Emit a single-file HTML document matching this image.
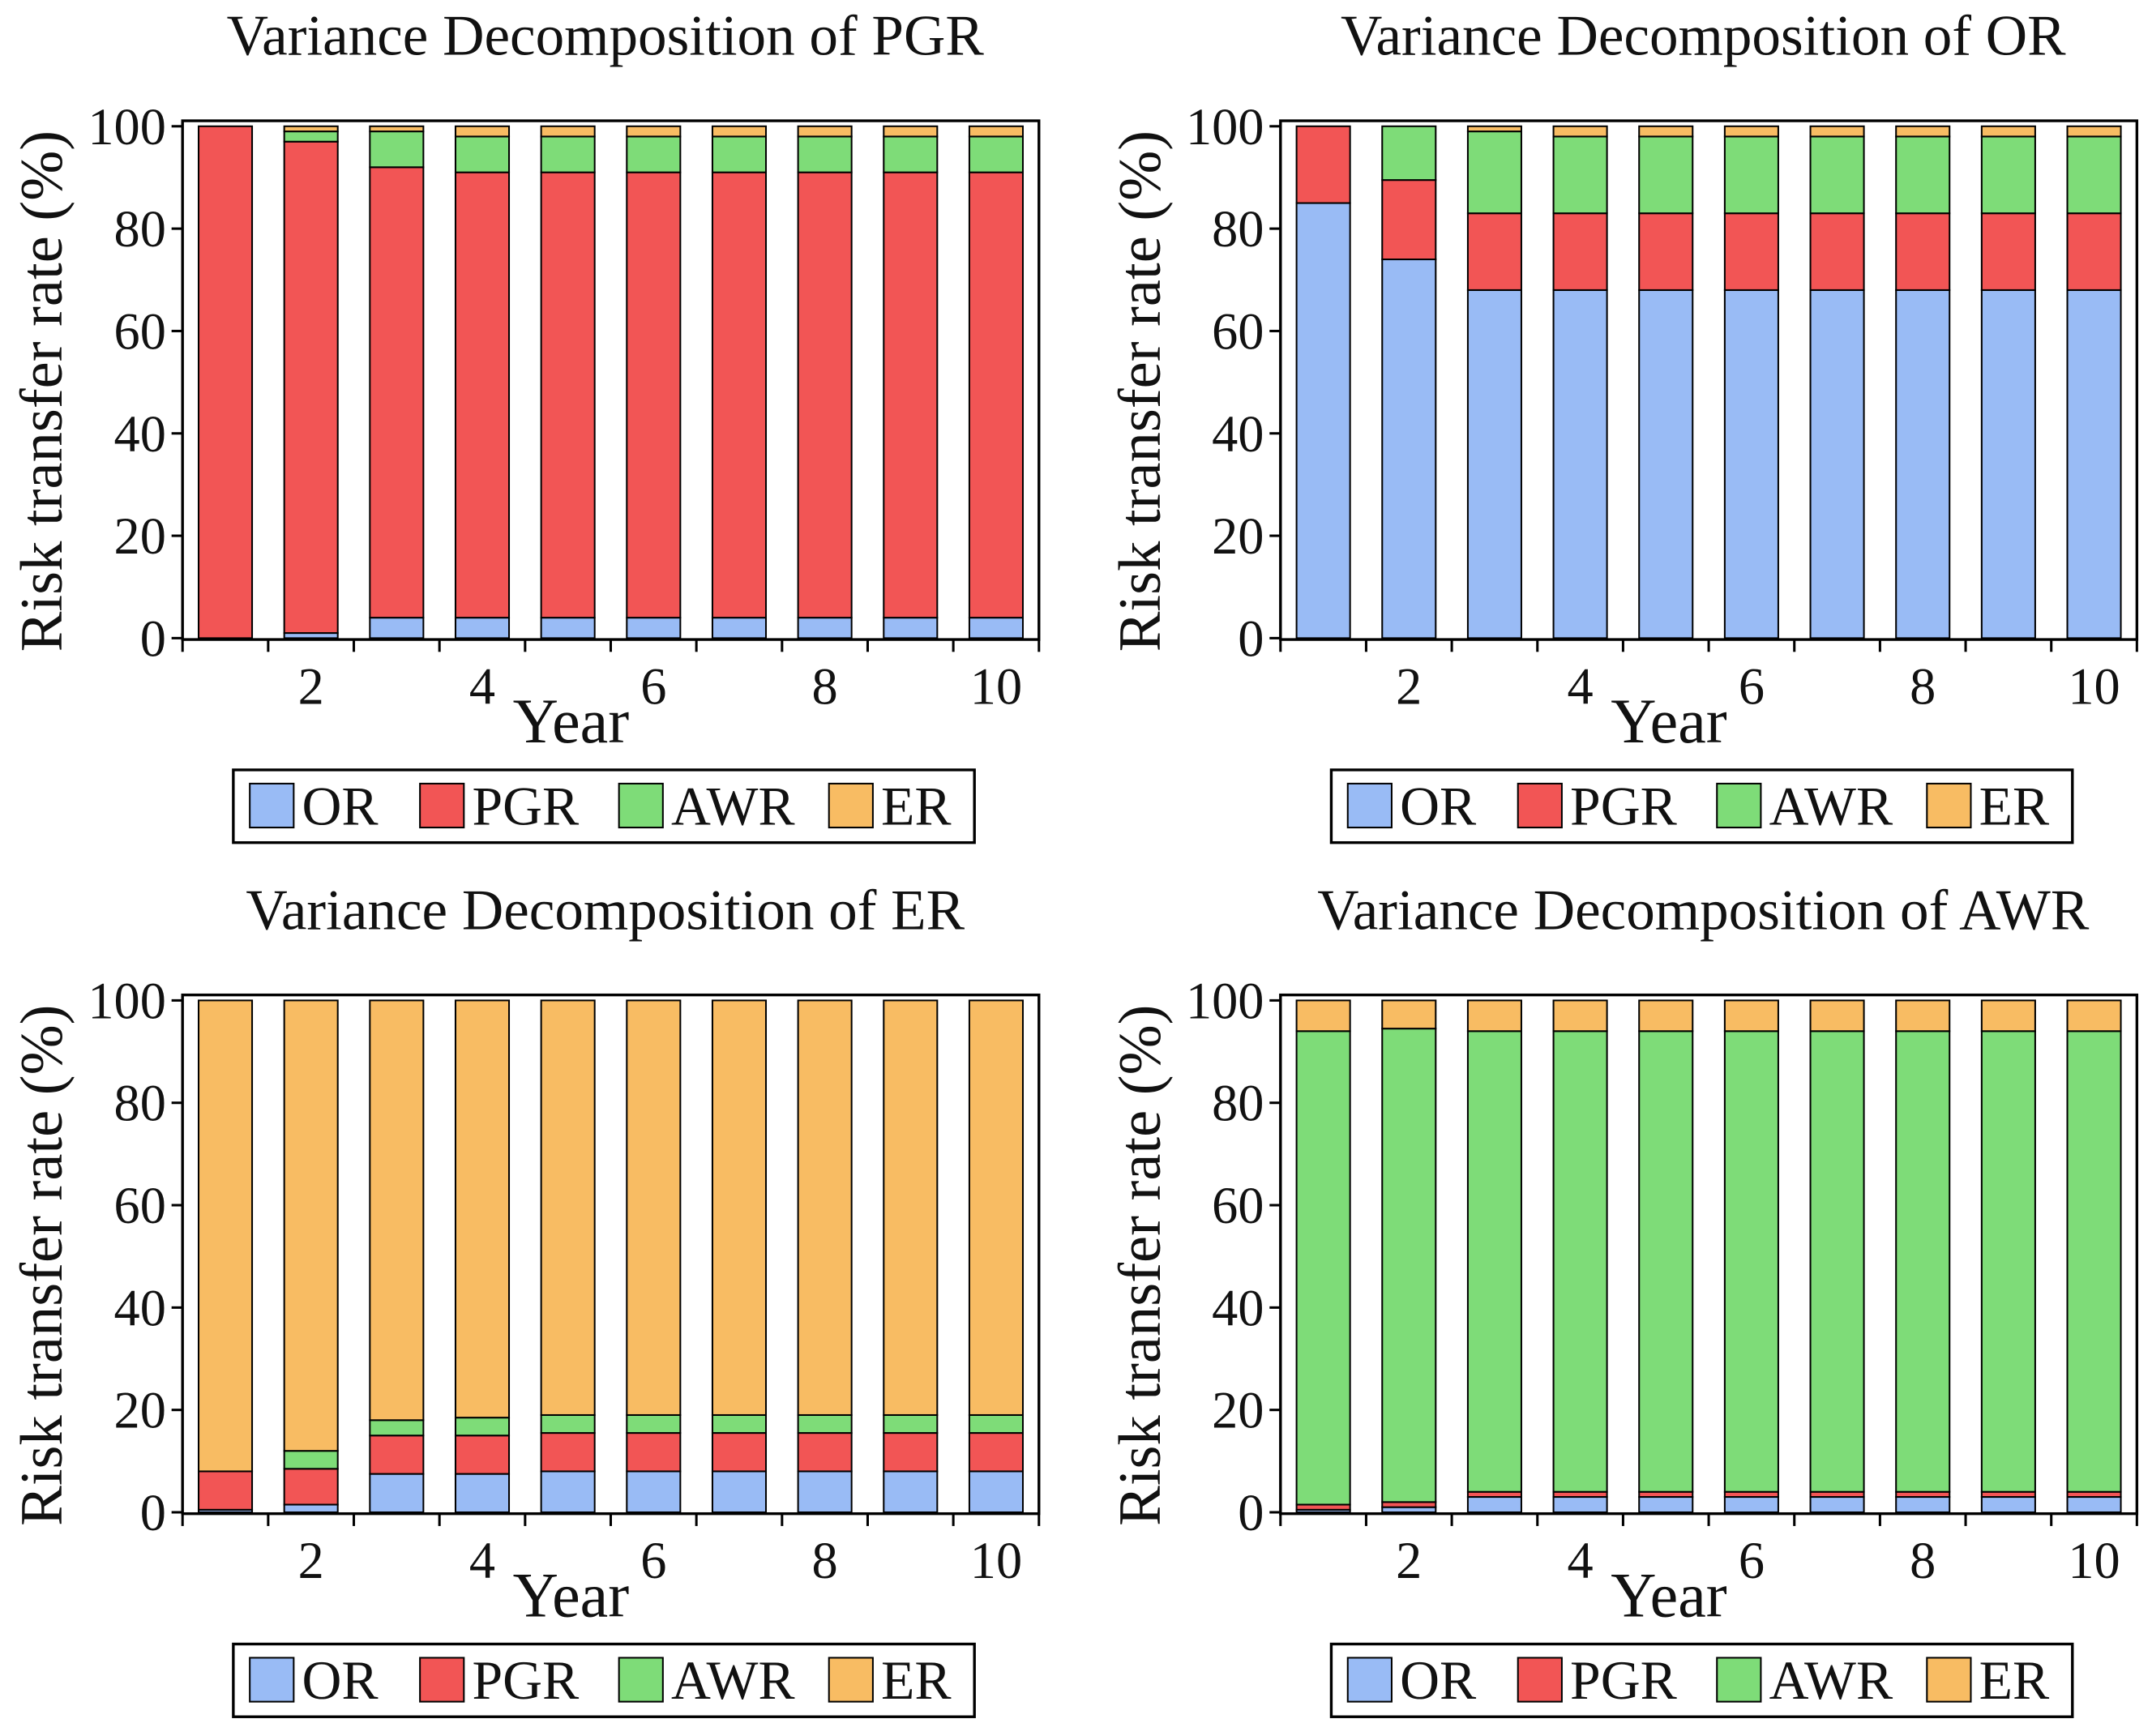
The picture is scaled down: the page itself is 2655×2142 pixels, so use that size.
<!DOCTYPE html>
<html><head><meta charset="utf-8"><style>
html,body{margin:0;padding:0;background:#fff}
svg{display:block}
text{font-family:"Liberation Serif",serif;fill:#111}
</style></head><body>
<svg id="c" width="2655" height="2142" viewBox="0 0 1568 1265" xmlns="http://www.w3.org/2000/svg"></svg>
<script>
const years=[1,2,3,4,5,6,7,8,9,10];
const seriesNames=["OR","PGR","AWR","ER"];
const colors=["#99bbf5","#f25555","#7edc78","#f8bc63"];
const yTicks=[0,20,40,60,80,100];
const xTicks=[2,4,6,8,10];
// Variance decomposition of PGR
const pgrOR =[0,1,4,4,4,4,4,4,4,4];
const pgrPGR=[100,96,88,87,87,87,87,87,87,87];
const pgrAWR=[0,2,7,7,7,7,7,7,7,7];
const pgrER =[0,1,1,2,2,2,2,2,2,2];
// Variance decomposition of OR
const orOR =[85,74,68,68,68,68,68,68,68,68];
const orPGR=[15,15.5,15,15,15,15,15,15,15,15];
const orAWR=[0,10.5,16,15,15,15,15,15,15,15];
const orER =[0,0,1,2,2,2,2,2,2,2];
// Variance decomposition of ER
const erOR =[0.5,1.5,7.5,7.5,8,8,8,8,8,8];
const erPGR=[7.5,7,7.5,7.5,7.5,7.5,7.5,7.5,7.5,7.5];
const erAWR=[0,3.5,3,3.5,3.5,3.5,3.5,3.5,3.5,3.5];
const erER =[92,88,82,81.5,81,81,81,81,81,81];
// Variance decomposition of AWR
const awrOR =[0.5,1,3,3,3,3,3,3,3,3];
const awrPGR=[1,1,1,1,1,1,1,1,1,1];
const awrAWR=[92.5,92.5,90,90,90,90,90,90,90,90];
const awrER =[6,5.5,6,6,6,6,6,6,6,6];

const panels=[
 {title:"Variance Decomposition of PGR",ox:0,oy:0,data:[pgrOR,pgrPGR,pgrAWR,pgrER],name:"pgr"},
 {title:"Variance Decomposition of OR",ox:800,oy:0,data:[orOR,orPGR,orAWR,orER],name:"or"},
 {title:"Variance Decomposition of ER",ox:0,oy:637,data:[erOR,erPGR,erAWR,erER],name:"er"},
 {title:"Variance Decomposition of AWR",ox:800,oy:637,data:[awrOR,awrPGR,awrAWR,awrER],name:"awr"}
];
const NS="http://www.w3.org/2000/svg";
const svg=document.getElementById('c');
function mk(tag,attrs,parent,txt){const e=document.createElementNS(NS,tag);for(const k in attrs)e.setAttribute(k,attrs[k]);if(txt!==undefined)e.textContent=txt;(parent||svg).appendChild(e);return e;}
panels.forEach(p=>{
 const g=mk('g',{transform:`translate(${p.ox},${p.oy})`});
 
 
 const L=133,R=757,T=88,B=466;
 const x=v=>L+(v-0.5)*62.4;
 const y=v=>465-v*3.73;
 const t=mk('text',{x:441,y:40,'text-anchor':'middle','font-size':42},g,p.title);
 
 
 years.forEach((yr,i)=>{
  let acc=0;
  p.data.forEach((s,si)=>{
   const v=s[i];
   if(v<=0){return;}
   const r=mk('rect',{x:x(yr)-19.5,y:y(acc+v),width:39,height:y(acc)-y(acc+v),fill:colors[si],stroke:'#000','stroke-width':1.2},g);
   
   
   acc+=v;
  });
 });
 const f=mk('rect',{x:L,y:T,width:R-L,height:B-T,fill:'none',stroke:'#000','stroke-width':2},g);
 
 
 yTicks.forEach(v=>{
  mk('line',{x1:L-8,x2:L,y1:y(v),y2:y(v),stroke:'#000','stroke-width':1.8},g);
  const tl=mk('text',{x:L-12,y:y(v)+13,'text-anchor':'end','font-size':38},g,String(v));
  
  
 });
 for(let k=0;k<=10;k++){mk('line',{x1:x(k+0.5),x2:x(k+0.5),y1:B,y2:B+9,stroke:'#000','stroke-width':1.8},g);}
 xTicks.forEach(v=>{
  const tl=mk('text',{x:x(v),y:B+47,'text-anchor':'middle','font-size':38},g,String(v));
  
  
 });
 const xl=mk('text',{x:416,y:B+75,'text-anchor':'middle','font-size':46},g,'Year');
 
 
 const yl=mk('text',{x:0,y:0,'text-anchor':'middle','font-size':44,transform:`translate(45,${(T+B)/2+8}) rotate(-90)`},g,'Risk transfer rate (%)');
 
 
 const lg=mk('g',{},g);
 
 
 mk('rect',{x:170,y:561,width:540,height:53,fill:'#fff',stroke:'#000','stroke-width':2},lg);
 const lx=[182,306,451,604];
 seriesNames.forEach((n,i)=>{
  const e=mk('g',{},lg);
  
  
  mk('rect',{x:lx[i],y:571,width:32,height:32,fill:colors[i],stroke:'#000','stroke-width':1.2},e);
  mk('text',{x:lx[i]+38,y:601,'font-size':40},e,n);
 });
});
</script>
</body></html>
